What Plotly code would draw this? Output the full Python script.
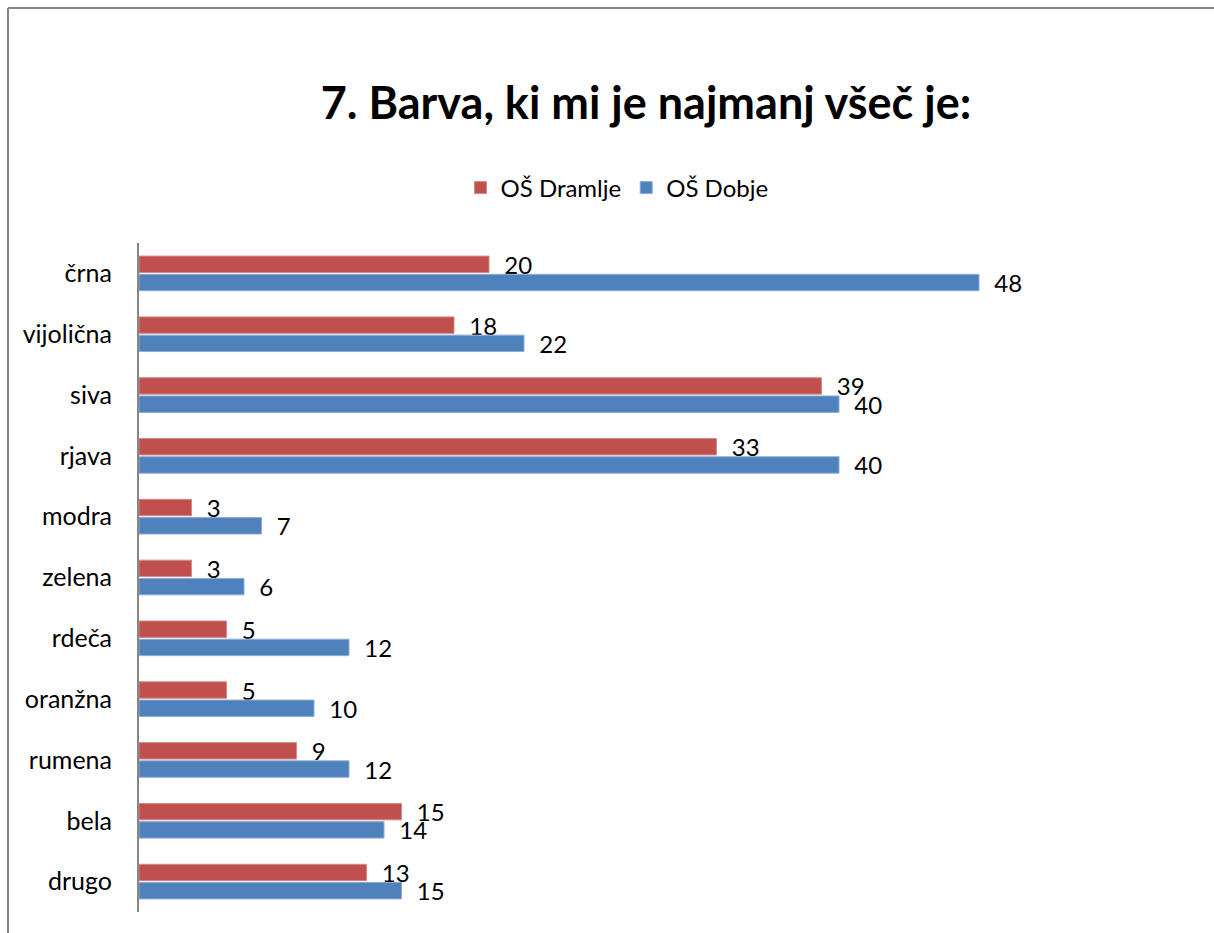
import plotly.graph_objects as go

categories = ["črna", "vijolična", "siva", "rjava", "modra", "zelena",
              "rdeča", "oranžna", "rumena", "bela", "drugo"]
dramlje = [20, 18, 39, 33, 3, 3, 5, 5, 9, 15, 13]
dobje = [48, 22, 40, 40, 7, 6, 12, 10, 12, 14, 15]
series_names = ["OŠ Dramlje", "OŠ Dobje"]
title_text = "7. Barva, ki mi je najmanj všeč je:"

FONT = "Lato"
W, H = 1214, 933
L, R, T, B = 139, 25, 243, 21
pw, ph = W - L - R, H - T - B

def px_to_paper_x(px):
    return (px - L) / pw

def px_to_paper_y(py):
    return (H - B - py) / ph

fig = go.Figure()
for name, vals, color, edge in [
    (series_names[0], dramlje, "#C0504D", "#D48A88"),
    (series_names[1], dobje, "#4F81BD", "#8CADD6"),
]:
    fig.add_trace(go.Bar(
        y=categories, x=vals, name=name, orientation="h",
        marker=dict(color=color, line=dict(color=edge, width=1)),
        text=vals, texttemplate="\u00a0\u00a0%{x}", textposition="outside",
        constraintext="none",
        textfont=dict(family=FONT, size=24, color="#000000"),
        cliponaxis=False,
    ))

fig.update_layout(
    width=W, height=H,
    margin=dict(l=L, r=R, t=T, b=B, autoexpand=False),
    paper_bgcolor="white", plot_bgcolor="white",
    barmode="group", bargap=0.4, bargroupgap=0.1,
    font=dict(family=FONT, size=24, color="#000000"),
    title=dict(text="<b>" + title_text + "</b>", xref="container", yref="container",
               x=646 / W, y=1 - 103 / H, xanchor="center", yanchor="middle",
               font=dict(family=FONT, size=45, color="#000000")),
    legend=dict(orientation="h", x=px_to_paper_x(617), y=px_to_paper_y(188),
                xanchor="center", yanchor="middle",
                font=dict(family=FONT, size=24, color="#000000"),
                traceorder="normal", itemwidth=30),
    showlegend=True,
    xaxis=dict(range=[0, 60], visible=False, fixedrange=True),
    yaxis=dict(autorange="reversed", showline=True, linecolor="#868686", linewidth=2,
               ticks="", showgrid=False, ticklabelstandoff=20,
               tickfont=dict(family=FONT, size=25, color="#000000")),
    shapes=[
        dict(type="line", xref="paper", yref="paper",
             x0=px_to_paper_x(8), x1=px_to_paper_x(1300),
             y0=px_to_paper_y(8), y1=px_to_paper_y(8),
             line=dict(color="#868686", width=2)),
        dict(type="line", xref="paper", yref="paper",
             x0=px_to_paper_x(8), x1=px_to_paper_x(8),
             y0=px_to_paper_y(8), y1=px_to_paper_y(1000),
             line=dict(color="#868686", width=2)),
    ],
)

fig.write_html("out.html", config={"displayModeBar": False},
               post_script="document.body.style.margin='0';")
